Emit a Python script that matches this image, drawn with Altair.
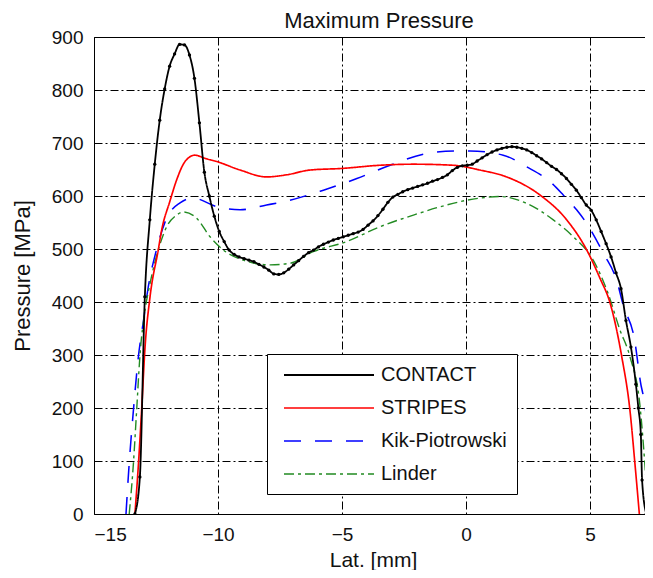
import altair as alt
import pandas as pd

# ---------------- data ----------------
contact_x = [-13.35, -13.15, -12.95, -12.75, -12.55, -12.35, -12.15, -11.95, -11.75, -11.55,
             -11.35, -11.15, -10.95, -10.75, -10.55, -10.35, -10.15, -9.95, -9.75, -9.55,
             -9.35, -9.15, -8.95, -8.75, -8.55, -8.35, -8.15, -7.95, -7.75, -7.55,
             -7.35, -7.15, -6.95, -6.75, -6.55, -6.35, -6.15, -5.95, -5.75, -5.55,
             -5.35, -5.15, -4.95, -4.75, -4.55, -4.35, -4.15, -3.95, -3.75, -3.55,
             -3.35, -3.15, -2.95, -2.75, -2.55, -2.35, -2.15, -1.95, -1.75, -1.55,
             -1.35, -1.15, -0.95, -0.75, -0.55, -0.35, -0.15, 0.05, 0.25, 0.45,
             0.65, 0.85, 1.05, 1.25, 1.45, 1.65, 1.85, 2.05, 2.25, 2.45,
             2.65, 2.85, 3.05, 3.25, 3.45, 3.65, 3.85, 4.05, 4.25, 4.45,
             4.65, 4.85, 5.05, 5.25, 5.45, 5.65, 5.85, 6.05, 6.25, 6.45,
             6.65, 6.85, 6.95, 7.05, 7.1, 7.27]
contact_y = [0, 70, 410, 555, 660, 743, 802, 845, 868, 886,
             885, 866, 822, 738, 645, 600, 562, 533, 514, 498,
             490, 485, 482, 479, 476, 471, 466, 460, 453, 452,
             455, 462, 470, 478, 486, 493, 498, 504, 509, 513,
             517, 520, 523, 526, 529, 532, 537, 545, 553, 563,
             575, 588, 598, 603, 608, 612, 615, 618, 621, 624,
             628, 631, 635, 640, 648, 654, 657, 658, 660, 666,
             672, 678, 683, 687, 690, 692, 693, 692, 690, 687,
             682, 676, 670, 663, 656, 650, 642, 633, 622, 611,
             597, 583, 573, 555, 533, 510, 485, 455, 425, 365,
             315, 245, 200, 150, 64, 0]

stripes_x = [-13.35, -13.2, -13.08, -12.94, -12.74, -12.41, -12.27, -11.94, -11.67, -11.33,
             -10.93, -10.52, -10.05, -9.11, -8.04, -7.23, -6.29, -5.0, -3.47, -2.12,
             -0.51, 0.56, 1.64, 2.98, 4.06, 4.87, 5.4, 5.81, 6.28, 6.61,
             6.81, 6.99]
stripes_y = [0, 100, 196, 316, 410, 498, 536, 590, 630, 665,
             677, 671, 665, 649, 636, 640, 649, 652, 658, 660,
             658, 649, 636, 602, 555, 498, 445, 398, 297, 196,
             96, 0]

kik_x = [-13.71, -13.58, -13.41, -13.21, -13.01, -12.81, -12.5, -12.1, -11.53, -11.0,
         -10.05, -9.11, -8.04, -7.1, -5.75, -4.4, -3.06, -1.59, -0.38, 0.16,
         1.5, 2.45, 3.39, 3.92, 4.46, 4.87, 5.54, 6.08, 6.34, 6.81,
         7.02, 7.28, 7.35, 7.42, 7.45]
kik_y = [0, 96, 196, 297, 363, 429, 495, 555, 587, 596,
         580, 574, 583, 592, 611, 633, 658, 680, 685, 685,
         677, 655, 627, 602, 574, 548, 492, 440, 394, 325,
         253, 177, 102, 40, 0]

linder_x = [-13.58, -13.41, -13.28, -13.15, -12.94, -12.74, -12.41, -12.07, -11.67, -11.4,
            -10.86, -10.32, -9.78, -8.98, -7.9, -7.1, -6.16, -4.81, -3.47, -2.12,
            -0.78, 0.03, 0.56, 1.37, 2.45, 3.52, 4.33, 5.13, 5.7, 6.21,
            6.61, 7.02, 7.22, 7.35]
linder_y = [0, 96, 196, 297, 385, 435, 498, 542, 564, 570,
            558, 523, 498, 479, 470, 473, 495, 514, 542, 564,
            583, 592, 596, 599, 586, 555, 523, 479, 420, 347,
            297, 202, 89, 0]

series_names = ["CONTACT", "STRIPES", "Kik-Piotrowski", "Linder"]
series_colors = ["#000000", "#ff0000", "#0000ff", "#228b22"]
series_dashes = [[1, 0], [1, 0], [17, 14], [10, 4, 3, 4]]
series_widths = [1.8, 1.4, 1.5, 1.5]

x_ticks = [-15, -10, -5, 0, 5]
y_ticks = [0, 100, 200, 300, 400, 500, 600, 700, 800, 900]

# ---------------- table ----------------
frames = []
for name, xs, ys, order in [
    ("Kik-Piotrowski", kik_x, kik_y, 0),
    ("Linder", linder_x, linder_y, 1),
    ("STRIPES", stripes_x, stripes_y, 2),
    ("CONTACT", contact_x, contact_y, 3),
]:
    frames.append(pd.DataFrame({"series": name, "x": xs, "y": ys, "ord": order}))
df = pd.concat(frames, ignore_index=True)
contact_df = df[df["series"] == "CONTACT"]

FONT = "Liberation Sans"

xscale = alt.Scale(domain=[-15, 7.5], nice=False, zero=False)
yscale = alt.Scale(domain=[0, 900], nice=False)

legend = alt.Legend(
    orient="none",
    legendX=173,
    legendY=317,
    title=None,
    symbolType="M-4.5,0H4.5",
    symbolSize=400,
    symbolStrokeWidth=1.5,
    symbolOffset=41,
    labelOffset=41,
    labelFont=FONT,
    labelFontSize=20,
    labelColor="#111111",
    strokeColor="#000000",
    fillColor="#ffffff",
    padding=10,
    rowPadding=12,
)

lines = alt.Chart(df).mark_line(clip=True, interpolate="monotone").encode(
    x=alt.X("x:Q", scale=xscale,
            axis=alt.Axis(values=x_ticks, title="Lat. [mm]")),
    y=alt.Y("y:Q", scale=yscale,
            axis=alt.Axis(values=y_ticks, title="Pressure [MPa]")),
    color=alt.Color("series:N",
                    scale=alt.Scale(domain=series_names, range=series_colors),
                    legend=legend),
    strokeDash=alt.StrokeDash("series:N",
                              scale=alt.Scale(domain=series_names, range=series_dashes),
                              legend=legend),
    strokeWidth=alt.StrokeWidth("series:N",
                                scale=alt.Scale(domain=series_names, range=series_widths),
                                legend=None),
    detail="series:N",
    order=alt.Order("ord:Q"),
)

points = alt.Chart(contact_df).mark_point(
    filled=True, size=11, color="#000000", opacity=1, clip=True
).encode(
    x=alt.X("x:Q", scale=xscale),
    y=alt.Y("y:Q", scale=yscale),
)

chart = (
    alt.layer(lines, points)
    .properties(
        width=558,
        height=477,
        title=alt.TitleParams("Maximum Pressure", font=FONT, fontSize=22,
                              fontWeight="normal", color="#111111",
                              offset=0, dx=6, dy=5),
        autosize=alt.AutoSizeParams(type="none"),
        padding={"left": 86, "top": 29, "right": -7, "bottom": 56},
    )
    .configure_view(stroke="#000000", strokeWidth=1)
    .configure_axis(
        grid=True,
        gridColor="#000000",
        gridDash=[8, 3, 2, 3],
        gridWidth=1,
        gridOpacity=1,
        ticks=False,
        domain=False,
        labelFont=FONT,
        labelFontSize=19,
        labelColor="#111111",
        titleFont=FONT,
        titleFontWeight="normal",
        titleColor="#111111",
    )
    .configure_axisX(labelPadding=11, titlePadding=5, titleFontSize=21)
    .configure_axisY(labelPadding=11, titlePadding=17, titleFontSize=22)
)

chart.save("out.html", embed_options={"renderer": "svg", "actions": False})
